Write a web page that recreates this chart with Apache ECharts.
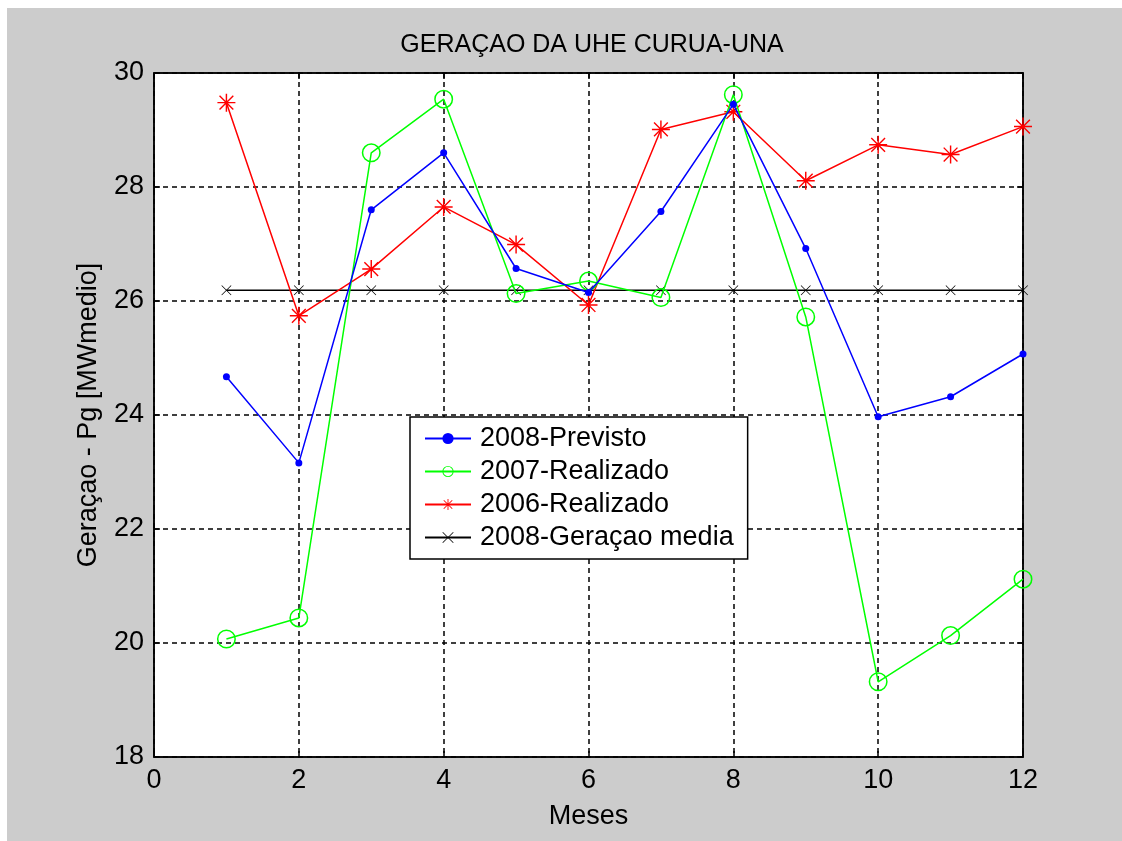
<!DOCTYPE html>
<html>
<head>
<meta charset="utf-8">
<script src="https://cdn.jsdelivr.net/npm/echarts@6/dist/echarts.min.js"></script>
<style>
html,body{margin:0;padding:0;background:#ffffff;width:1122px;height:841px;overflow:hidden;}
#chart{position:absolute;left:7px;top:8px;width:1115px;height:833px;}
</style>
</head>
<body>
<div id="chart"></div>
<script>
const months = [1,2,3,4,5,6,7,8,9,10,11,12];
const previsto2008 = [24.67,23.16,27.6,28.6,26.57,26.15,27.57,29.45,26.92,23.97,24.32,25.07];
const realizado2007 = [20.07,20.44,28.6,29.54,26.13,26.35,26.06,29.62,25.72,19.32,20.13,21.12];
const realizado2006 = [29.48,25.74,26.56,27.65,26.99,25.93,29.01,29.32,28.11,28.74,28.57,29.06];
const media2008 = [26.19,26.19,26.19,26.19,26.19,26.19,26.19,26.19,26.19,26.19,26.19,26.19];
const seriesNames = ['2008-Previsto','2007-Realizado','2006-Realizado','2008-Geraçao media'];
const xTicks = [0,2,4,6,8,10,12];
const yTicks = [18,20,22,24,26,28,30];

const FONT = "'Liberation Sans Narrow','Liberation Sans',Arial,sans-serif";
const pairs = arr => months.map((m,i)=>[m,arr[i]]);

const asterisk = 'path://M0,9.2L20,9.2L20,10.8L0,10.8Z M9.2,0L10.8,0L10.8,20L9.2,20Z M2.9,1.8L18.2,17.1L17.1,18.2L1.8,2.9Z M17.1,1.8L18.2,2.9L2.9,18.2L1.8,17.1Z';
const ring = 'path://M10,0A10,10 0 1,1 10,20A10,10 0 1,1 10,0Z M10,1.6A8.4,8.4 0 1,0 10,18.4A8.4,8.4 0 1,0 10,1.6Z';
const xmark = 'path://M1,0L10,9L19,0L20,1L11,10L20,19L19,20L10,11L1,20L0,19L9,10L0,1Z';

const chart = echarts.init(document.getElementById('chart'));
const gridLine = {show:true, lineStyle:{color:'#000', type:[5,4], width:1.5}};
const tickStyle = {show:true, inside:true, length:6, lineStyle:{color:'#000', width:1.5}};
const axisLabel = {color:'#000', fontFamily:FONT, fontSize:27, margin:10};

chart.setOption({
  backgroundColor:'#cccccc',
  animation:false,
  title:{
    text:'GERAÇAO DA UHE CURUA-UNA',
    left:580, top:20, textAlign:'center',
    textStyle:{color:'#000', fontFamily:FONT, fontSize:25, fontWeight:'normal'}
  },
  grid:{left:147, top:65, right:99, bottom:84, show:true, backgroundColor:'#fff', borderColor:'#000', borderWidth:1.5},
  legend:{
    orient:'vertical', left:403, top:409,
    data:seriesNames,
    backgroundColor:'#fff', borderColor:'#000', borderWidth:1.5,
    padding:[8,14,8,14], itemGap:6, itemWidth:46, itemHeight:14,
    textStyle:{color:'#000', fontFamily:FONT, fontSize:27, padding:[0,0,0,4]}
  },
  xAxis:[{
    type:'value', min:0, max:12, interval:2,
    name:'Meses', nameLocation:'middle', nameGap:46,
    nameTextStyle:{color:'#000', fontFamily:FONT, fontSize:27},
    axisLine:{show:true, onZero:false, lineStyle:{color:'#000', width:1.5}},
    axisTick:tickStyle, axisLabel:axisLabel, splitLine:gridLine
  },{
    type:'value', position:'top', min:0, max:12, interval:2,
    axisLine:{show:true, onZero:false, lineStyle:{color:'#000', width:1.5}},
    axisTick:tickStyle, axisLabel:{show:false}, splitLine:{show:false}
  }],
  yAxis:[{
    type:'value', min:18, max:30, interval:2,
    name:'Geraçao - Pg [MWmedio]', nameLocation:'middle', nameGap:52,
    nameTextStyle:{color:'#000', fontFamily:FONT, fontSize:27},
    axisLine:{show:true, onZero:false, lineStyle:{color:'#000', width:1.5}},
    axisTick:tickStyle, axisLabel:axisLabel, splitLine:gridLine
  },{
    type:'value', position:'right', min:18, max:30, interval:2,
    axisLine:{show:true, onZero:false, lineStyle:{color:'#000', width:1.5}},
    axisTick:tickStyle, axisLabel:{show:false}, splitLine:{show:false}
  }],
  series:[
    {name:seriesNames[0], type:'line', data:pairs(previsto2008), symbol:'circle', symbolSize:7,
     lineStyle:{color:'#0000ff', width:1.5}, itemStyle:{color:'#0000ff'}, z:5},
    {name:seriesNames[1], type:'line', data:pairs(realizado2007), symbol:ring, symbolSize:19,
     lineStyle:{color:'#00ff00', width:1.5}, itemStyle:{color:'#00ff00'}, z:4},
    {name:seriesNames[2], type:'line', data:pairs(realizado2006), symbol:asterisk, symbolSize:18,
     lineStyle:{color:'#ff0000', width:1.5}, itemStyle:{color:'#ff0000'}, z:3},
    {name:seriesNames[3], type:'line', data:pairs(media2008), symbol:xmark, symbolSize:10,
     lineStyle:{color:'#000', width:1.5}, itemStyle:{color:'#000'}, z:2}
  ]
});
</script>
</body>
</html>
